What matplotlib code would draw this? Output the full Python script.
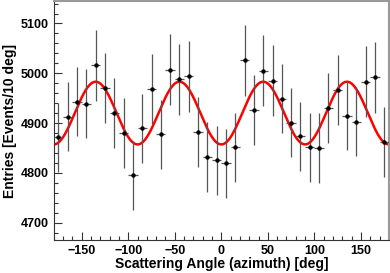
import matplotlib
matplotlib.use("Agg")
import matplotlib.pyplot as plt
import numpy as np
from matplotlib.ticker import MultipleLocator

# bin centres (deg), entries and their errors
angles = [-175, -165, -155, -145, -135, -125, -115, -105, -95,
          -85, -75, -65, -55, -45, -35, -25, -15, -5,
          5, 15, 25, 35, 45, 55, 65, 75, 85,
          95, 105, 115, 125, 135, 145, 155, 165, 175]
entries = [4871, 4913, 4943, 4939, 5016, 4971, 4920, 4880, 4795,
           4889, 4969, 4877, 5007, 4988, 4994, 4882, 4832, 4825,
           4819, 4851, 5026, 4926, 5005, 4985, 4949, 4901, 4873,
           4851, 4850, 4930, 4967, 4915, 4903, 4983, 4992, 4862]
errors = [70, 70, 70, 70, 71, 70, 70, 70, 69,
          70, 70, 70, 71, 71, 71, 70, 70, 69,
          69, 70, 71, 70, 71, 71, 70, 70, 70,
          70, 70, 70, 70, 70, 70, 71, 71, 70]
bin_half = 5

# fit: p0 - p1*cos(4*phi)
p0 = 4920
p1 = 63

plt.rcParams['font.family'] = ['Liberation Sans', 'DejaVu Sans']

fig = plt.figure(figsize=(3.9, 2.73), dpi=100)
ax = fig.add_axes([0.138, 0.121, 0.859, 0.875])

ax.errorbar(angles, entries, yerr=errors, xerr=bin_half, fmt='o', color='black',
            ms=2.2, elinewidth=0.9, ecolor='#555555', capsize=0, zorder=3)

phi = np.linspace(-180, 180, 721)
ax.plot(phi, p0 - p1 * np.cos(np.radians(4 * phi)), color='#ff0000', lw=1.8, zorder=2)

ax.set_xlim(-180, 180)
ax.set_ylim(4665, 5145)
ax.xaxis.set_major_locator(MultipleLocator(50))
ax.xaxis.set_minor_locator(MultipleLocator(10))
ax.yaxis.set_major_locator(MultipleLocator(100))
ax.yaxis.set_minor_locator(MultipleLocator(20))
ax.tick_params(which='both', direction='in', top=False, right=False,
               colors='#333333', labelcolor='black')
ax.tick_params(which='major', length=6, width=0.8, labelsize=9)
ax.tick_params(which='minor', length=3, width=0.8)
for lab in ax.get_xticklabels() + ax.get_yticklabels():
    lab.set_fontweight('bold')

for s in ['top', 'right']:
    ax.spines[s].set_color('#999999')
    ax.spines[s].set_linewidth(1.5)
for s in ['left', 'bottom']:
    ax.spines[s].set_color('#333333')

ax.set_xlabel('Scattering Angle (azimuth) [deg]', fontsize=10, fontweight='bold', labelpad=0)
ax.set_ylabel('Entries [Events/10 deg]', fontsize=10, fontweight='bold', labelpad=3)

fig.savefig('out.png', dpi=100)
